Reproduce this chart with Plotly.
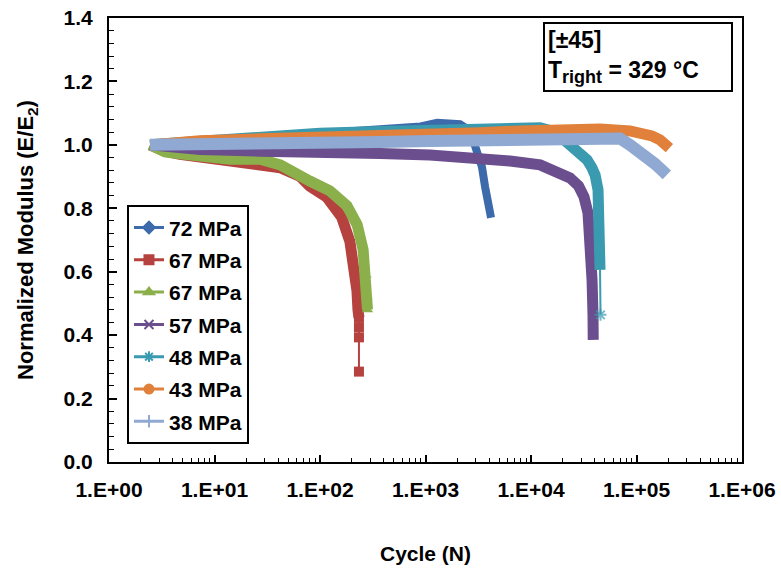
import plotly.graph_objects as go

# ---------------- data ----------------
labels = ["72 MPa", "67 MPa", "67 MPa", "57 MPa", "48 MPa", "43 MPa", "38 MPa"]
colors = ["#3C6AAA", "#B5423F", "#8BB04B", "#6B4E8D", "#3A9AAF", "#E0803A", "#8FA9D2"]
symbols = ["diamond", "square", "triangle-up", "x-thin-open", "asterisk-open", "circle", "line-ns-open"]

n72 = [2.45, 7.3, 27, 100, 370, 900, 1290, 2120, 2640, 3070, 3430, 3670, 3920, 4180]
e72 = [1.0, 1.01, 1.025, 1.037, 1.045, 1.058, 1.07, 1.065, 1.045, 0.984, 0.93, 0.868, 0.804, 0.77]

n67a = [2.45, 3.4, 4.7, 7.3, 14, 27, 42, 65, 80, 116, 160, 192, 215, 224, 229, 234]
e67a = [1.0, 0.98, 0.97, 0.962, 0.95, 0.944, 0.928, 0.9, 0.87, 0.835, 0.773, 0.695, 0.6, 0.54, 0.48, 0.455]
n67a_tail = [234, 234, 234, 234]
e67a_tail = [0.455, 0.425, 0.393, 0.285]

n67b = [2.45, 3.4, 4.7, 7.3, 14, 27, 42, 80, 124, 180, 225, 256, 273, 279, 282]
e67b = [1.0, 0.978, 0.972, 0.965, 0.955, 0.955, 0.937, 0.886, 0.855, 0.808, 0.748, 0.67, 0.59, 0.52, 0.48]

n57 = [2.45, 7.3, 27, 100, 370, 1100, 2640, 6320, 12200, 18800, 23400, 28200, 31800, 34700, 36200, 37000, 37900, 38700, 38900]
e57 = [1.0, 0.985, 0.98, 0.98, 0.973, 0.968, 0.962, 0.949, 0.937, 0.915, 0.896, 0.871, 0.836, 0.785, 0.716, 0.669, 0.574, 0.464, 0.385]

n48 = [2.45, 7.3, 27, 100, 370, 1400, 5080, 12200, 16900, 21000, 25000, 29100, 34000, 37900, 40500, 43200, 44200, 44700, 45100]
e48 = [1.0, 1.012, 1.025, 1.037, 1.042, 1.047, 1.05, 1.054, 1.041, 1.016, 0.991, 0.975, 0.953, 0.927, 0.905, 0.858, 0.795, 0.7, 0.606]
n48_tail = [45100, 45600]
e48_tail = [0.606, 0.464]

n43 = [2.45, 7.3, 27, 100, 370, 1100, 3290, 7870, 18800, 45100, 86800, 120000, 140000, 167000, 186000, 205000]
e43 = [1.0, 1.013, 1.019, 1.022, 1.025, 1.032, 1.038, 1.044, 1.05, 1.05, 1.044, 1.038, 1.028, 1.016, 1.0, 0.99]

n38 = [2.45, 7.3, 27, 100, 370, 1100, 3290, 7870, 18800, 45100, 69800, 86800, 108000, 128000, 150000, 194000]
e38 = [1.0, 1.0, 1.003, 1.006, 1.009, 1.012, 1.014, 1.016, 1.016, 1.016, 1.02, 1.0, 0.978, 0.962, 0.94, 0.905]

series_n = [n72, n67a, n67b, n57, n48, n43, n38]
series_e = [e72, e67a, e67b, e57, e48, e43, e38]
widths = [8, 11, 11, 11, 11, 11, 12]

x_tickvals = [1, 10, 100, 1000, 10000, 100000, 1000000]
x_ticktext = ["1.E+00", "1.E+01", "1.E+02", "1.E+03", "1.E+04", "1.E+05", "1.E+06"]
y_tickvals = [0.0, 0.2, 0.4, 0.6, 0.8, 1.0, 1.2, 1.4]
y_ticktext = ["0.0", "0.2", "0.4", "0.6", "0.8", "1.0", "1.2", "1.4"]

FONT = "Liberation Sans, Arial, sans-serif"

fig = go.Figure()

# thick bands (the dense measured points)
for i in range(7):
    fig.add_trace(go.Scatter(
        x=series_n[i], y=series_e[i], mode="lines",
        line=dict(color=colors[i], width=widths[i]),
        showlegend=False, hoverinfo="skip"))
    if i == 1:
        fig.add_trace(go.Scatter(
            x=n67a_tail, y=e67a_tail, mode="lines+markers",
            line=dict(color=colors[1], width=2),
            marker=dict(symbol="square", size=10, color=colors[1]),
            showlegend=False))
    if i == 2:
        fig.add_trace(go.Scatter(
            x=n67b[-4:], y=e67b[-4:], mode="markers",
            marker=dict(symbol="triangle-up", size=10, color=colors[2]),
            showlegend=False))
    if i == 4:
        fig.add_trace(go.Scatter(
            x=n48_tail, y=e48_tail, mode="lines+markers",
            line=dict(color=colors[4], width=2),
            marker=dict(symbol=["asterisk-open", "asterisk-open"], size=[0, 10],
                        line=dict(color=colors[4], width=2)),
            showlegend=False))

# legend entries
for i in range(7):
    fig.add_trace(go.Scatter(
        x=[None], y=[None], mode="lines+markers", name=labels[i],
        legendgroup="g%d" % i,
        line=dict(color=colors[i], width=3),
        marker=dict(symbol=symbols[i], size=9, color=colors[i],
                    line=dict(color=colors[i], width=2))))

fig.add_annotation(
    xref="paper", yref="paper", x=0.6856, y=0.991, xanchor="left", yanchor="top",
    text="[±45]<br>T<sub><span style=\"font-size:18px\">right</span></sub> = 329 °C",
    showarrow=False, align="left",
    font=dict(family=FONT, size=23, color="black", weight="bold"),
    bordercolor="black", borderwidth=2, borderpad=3, width=180)

fig.update_layout(
    width=781, height=571,
    margin=dict(l=109, r=39, t=18, b=109),
    paper_bgcolor="white", plot_bgcolor="white",
    font=dict(family=FONT, color="black"),
    legend=dict(x=0.0284, y=0.578, xanchor="left", yanchor="top",
                bordercolor="black", borderwidth=2, bgcolor="white",
                font=dict(family=FONT, size=21, color="black", weight="bold"),
                tracegroupgap=2, itemwidth=30),
    showlegend=True,
)

fig.update_xaxes(
    type="log", range=[0, 6], tickvals=x_tickvals, ticktext=x_ticktext, automargin=False,
    ticklabeloverflow="allow",
    ticks="inside", ticklen=7, tickwidth=1.5, tickcolor="black",
    minor=dict(ticks="inside", ticklen=4, tickwidth=1.2, tickcolor="black", dtick="D1", showgrid=False),
    showline=True, linecolor="black", linewidth=2, mirror=True, showgrid=False, zeroline=False,
    tickfont=dict(family=FONT, size=21, color="black", weight="bold"),
    ticklabelstandoff=8,
    title=dict(text="Cycle (N)", font=dict(family=FONT, size=21, color="black", weight="bold"), standoff=46),
)
fig.update_yaxes(
    range=[0, 1.4], tickvals=y_tickvals, ticktext=y_ticktext, automargin=False,
    ticklabeloverflow="allow",
    ticks="inside", ticklen=8, tickwidth=1.5, tickcolor="black",
    minor=dict(ticks="inside", ticklen=5, tickwidth=1.2, tickcolor="black", dtick=0.04, showgrid=False),
    showline=True, linecolor="black", linewidth=2, mirror=True, showgrid=False, zeroline=False,
    tickfont=dict(family=FONT, size=21, color="black", weight="bold"),
    ticklabelstandoff=10,
    title=dict(text="Normalized Modulus (E/E<sub>2</sub>)",
               font=dict(family=FONT, size=22, color="black", weight="bold"), standoff=24),
)

# remove the browser's default 8px page margin so the 781x571 figure fills the window
fig.write_html("out.html", config={"displayModeBar": False},
               post_script="document.body.style.margin='0px';document.documentElement.style.overflow='hidden';")
